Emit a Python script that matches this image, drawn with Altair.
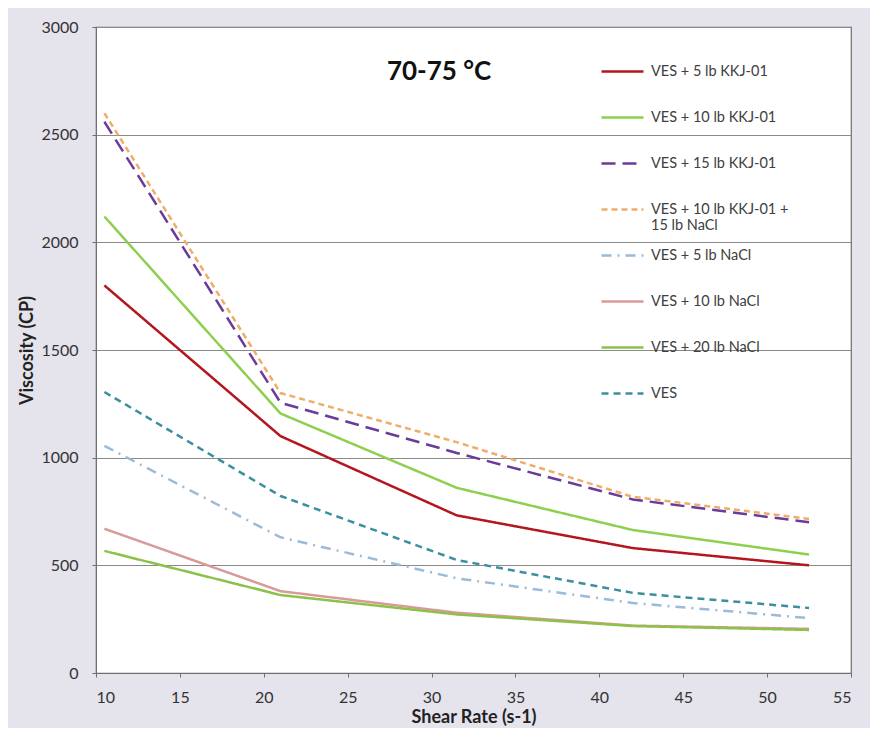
import altair as alt
import pandas as pd

shear_rate = [10.5, 21, 31.5, 42, 52.5]

series_names = [
    "VES + 5 lb KKJ-01",
    "VES + 10 lb KKJ-01",
    "VES + 15 lb KKJ-01",
    "VES + 10 lb KKJ-01 + 15 lb NaCl",
    "VES + 5 lb NaCl",
    "VES + 10 lb NaCl",
    "VES + 20 lb NaCl",
    "VES",
]

ves_5_kkj = [1800, 1100, 732, 580, 500]
ves_10_kkj = [2120, 1205, 860, 664, 550]
ves_15_kkj = [2560, 1255, 1022, 806, 700]
ves_10_kkj_15_nacl = [2600, 1300, 1072, 818, 715]
ves_5_nacl = [1055, 630, 440, 325, 255]
ves_10_nacl = [670, 380, 280, 220, 205]
ves_20_nacl = [567, 362, 272, 218, 200]
ves_only = [1305, 822, 525, 372, 302]

all_values = [ves_5_kkj, ves_10_kkj, ves_15_kkj, ves_10_kkj_15_nacl,
              ves_5_nacl, ves_10_nacl, ves_20_nacl, ves_only]

colors = ["#b3161e", "#8fcf4f", "#6a3b9b", "#f0ad6a",
          "#9bbbd9", "#d99a9a", "#8cc14a", "#3b8fa0"]
dashes = [[1, 0], [1, 0], [14, 7], [6, 4], [10, 6, 2, 6], [1, 0], [1, 0], [7, 5]]

rows = []
for name, vals in zip(series_names, all_values):
    for x, v in zip(shear_rate, vals):
        rows.append({"series": name, "rate": x, "visc": v})
df = pd.DataFrame(rows)

label_expr = ("datum.label == 'VES + 10 lb KKJ-01 + 15 lb NaCl' ? "
              "['VES + 10 lb KKJ-01 +', '15 lb NaCl'] : [datum.label, ' ']")

chart = alt.Chart(df).mark_line(strokeWidth=2.5, clip=True).encode(
    x=alt.X("rate:Q", title="Shear Rate (s-1)",
            scale=alt.Scale(domain=[10, 55], nice=False),
            axis=alt.Axis(values=list(range(10, 56, 5)), grid=False)),
    y=alt.Y("visc:Q", title="Viscosity (CP)",
            scale=alt.Scale(domain=[0, 3000], nice=False),
            axis=alt.Axis(values=list(range(0, 3001, 500)), grid=True, format="d")),
    color=alt.Color("series:N", title=None,
                    scale=alt.Scale(domain=series_names, range=colors),
                    legend=alt.Legend(orient="none", legendX=504, legendY=22,
                                      symbolType="stroke", symbolSize=1764,
                                      symbolStrokeWidth=2.5, rowPadding=0,
                                      labelOffset=6, labelExpr=label_expr,
                                      labelFontSize=14.5, labelFont="Lato",
                                      labelColor="#404040", padding=0,
                                      labelLimit=300)),
    strokeDash=alt.StrokeDash("series:N", title=None,
                              scale=alt.Scale(domain=series_names, range=dashes),
                              legend=None),
    detail="series:N",
).properties(
    width=755,
    height=646,
    title=alt.TitleParams("70-75 °C", anchor="start", dx=368, dy=83,
                          fontSize=26, font="Lato", fontWeight="bold",
                          color="#111111", baseline="middle"),
    autosize=alt.AutoSizeParams(type="none"),
    padding={"left": 88, "top": 19, "right": 19, "bottom": 55},
    background="#e5e3ec",
).configure_view(
    fill="white", stroke="#6f6f6f", strokeWidth=1.2
).configure_axis(
    labelFont="Lato", labelFontSize=16, labelColor="#333333",
    titleFont="Lato", titleFontSize=18, titleFontWeight="bold",
    titleColor="#222222", domainColor="#6f6f6f", tickColor="#6f6f6f",
    gridColor="#8a8a8a", gridWidth=1, tickSize=4
).configure_axisY(
    labelPadding=14, titlePadding=4
).configure_axisX(
    labelPadding=12, titlePadding=3
).configure_title(offset=0)

chart.save("out.html", embed_options={"renderer": "svg", "actions": False})
